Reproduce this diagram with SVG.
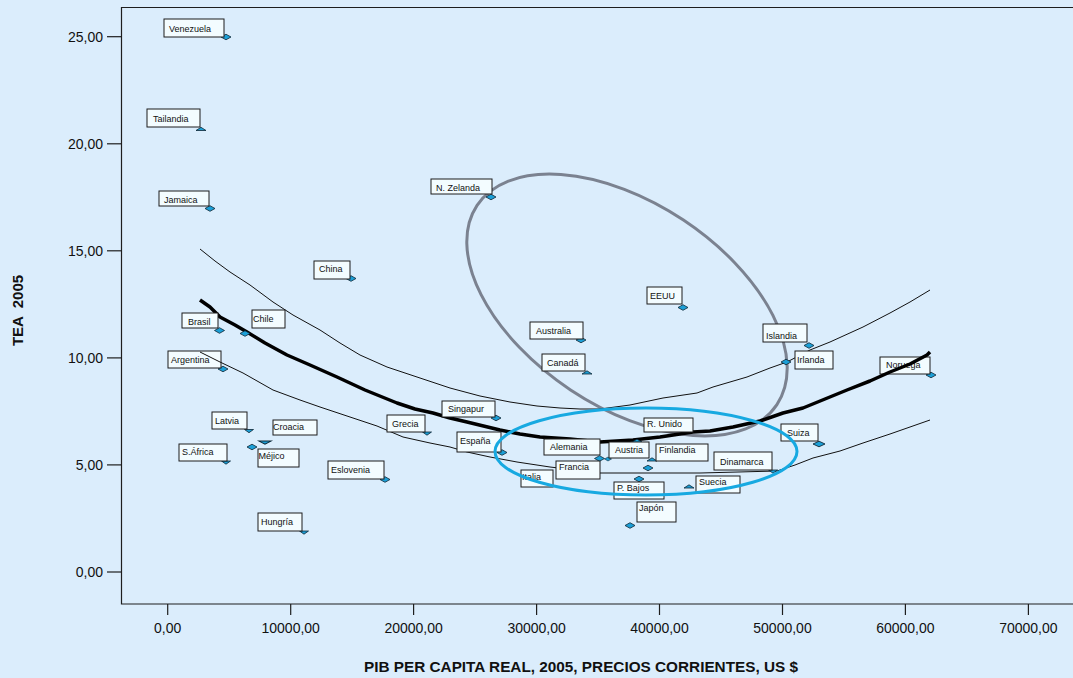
<svg xmlns="http://www.w3.org/2000/svg" width="1073" height="678" viewBox="0 0 1073 678">
<style>
.bg{fill:#dbedfc}
.ax{stroke:#1e1e1e;stroke-width:1.2;fill:none}
.tkl{font-family:"Liberation Sans",Arial,sans-serif;font-size:14px;fill:#111}
.ttl{font-family:"Liberation Sans",Arial,sans-serif;font-weight:bold;font-size:15px;fill:#111}
.box{fill:#f3fcff;stroke:#1c1c1c;stroke-width:1}
.lt{font-family:"Liberation Sans",Arial,sans-serif;font-size:9px;fill:#111}
.mk{fill:#1b9fd7;stroke:#0d2635;stroke-width:0.8}
.thin{stroke:#111;stroke-width:1;fill:none;stroke-linejoin:round}
.thick{stroke:#000;stroke-width:3.5;fill:none;stroke-linejoin:round}
.eg{stroke:#7b8290;stroke-width:3;fill:none}
.eb{stroke:#17a9e1;stroke-width:3;fill:none}
</style>
<defs>
<path id="dm" d="M-5,0 L0,-2.8 L5,0 L0,2.8 Z"/>
<path id="tu" d="M-5,0 L0,-3.2 L5,0 Z"/>
<path id="td" d="M-4.5,0 L4.5,0 L0,3.2 Z"/>
</defs>
<rect class="bg" x="0" y="0" width="1073" height="678"/>

<g id="annotation-gray">
<ellipse class="eg" cx="627" cy="305" rx="180" ry="102" transform="rotate(33.6 627 305)"/>
</g>

<g id="node-argentina">
<use href="#dm" class="mk" x="223" y="369"/>
<rect class="box" x="168" y="351" width="53" height="17"/>
<text class="lt" x="171" y="362.5">Argentina</text>
</g>
<g id="node-noruega">
<use href="#dm" class="mk" x="931" y="375"/>
<rect class="box" x="880" y="357" width="50" height="17"/>
<text class="lt" x="886" y="368">Noruega</text>
</g>

<g id="connectors">
<polyline class="thin" points="200,249 215,261 230,272 250,285 273,302 293,315 320,330 340,343 360,355 387,367 420,378 450,388 480,396 510,402 537,406 560,408 580,409 600,409 630,405 663,398 697,393 713,387 747,377 770,368 787,362 810,350 830,342 863,327 890,313 910,302 930,290"/>
<polyline class="thick" points="200,300 210,307 220,317 235,325 247,332 265,343 287,355 310,365 337,377 365,390 397,403 415,409 433,413 450,418 467,422 500,430 520,434 540,437 570,439 600,442 633,440 660,437 693,432 710,431 733,427 760,421 783,413 803,408 825,399 847,390 870,381 890,372 910,364 927,355 930,352"/>
<polyline class="thin" points="200,352 220,362 243,373 273,390 300,400 320,407 350,417 377,426 403,437 430,443 450,447 467,452 490,457 517,462 550,467 600,473 640,473 700,473 777,471 795,465 813,458 840,451 863,443 890,434 910,427 930,420"/>
</g>

<g id="node-venezuela">
<use href="#dm" class="mk" x="226" y="37"/>
<rect class="box" x="164" y="19" width="60" height="18"/>
<text class="lt" x="169" y="31.5">Venezuela</text>
</g>
<g id="node-tailandia">
<use href="#tu" class="mk" x="201" y="130.5"/>
<rect class="box" x="147" y="109" width="53" height="18"/>
<text class="lt" x="153" y="121.5">Tailandia</text>
</g>
<g id="node-jamaica">
<use href="#dm" class="mk" x="210" y="208.5"/>
<rect class="box" x="159" y="191" width="50" height="15"/>
<text class="lt" x="164" y="203">Jamaica</text>
</g>
<g id="node-nzelanda">
<use href="#dm" class="mk" x="491" y="197"/>
<rect class="box" x="431" y="179" width="61" height="15"/>
<text class="lt" x="436" y="191">N. Zelanda</text>
</g>
<g id="node-china">
<use href="#dm" class="mk" x="351" y="278.5"/>
<rect class="box" x="314" y="261" width="36" height="18"/>
<text class="lt" x="319" y="272">China</text>
</g>
<g id="node-brasil">
<use href="#dm" class="mk" x="219.5" y="330.5"/>
<rect class="box" x="182" y="313" width="36" height="15"/>
<text class="lt" x="188" y="324.5">Brasil</text>
</g>
<g id="node-chile">
<use href="#dm" class="mk" x="245" y="333.5"/>
<rect class="box" x="252" y="310" width="33" height="18"/>
<text class="lt" x="253" y="322">Chile</text>
</g>
<g id="node-latvia">
<use href="#td" class="mk" x="249" y="429.5"/>
<rect class="box" x="212" y="412" width="35" height="17"/>
<text class="lt" x="215" y="424">Latvia</text>
</g>
<g id="node-croacia">
<use href="#td" class="mk" x="265" y="441" transform="translate(265 441) scale(1.4 1) translate(-265 -441)"/>
<rect class="box" x="273" y="420" width="44" height="15"/>
<text class="lt" x="273" y="430">Croacia</text>
</g>
<g id="node-safrica">
<use href="#td" class="mk" x="226" y="461"/>
<rect class="box" x="179" y="444" width="48" height="17"/>
<text class="lt" x="182" y="455">S.África</text>
</g>
<g id="node-mejico">
<use href="#dm" class="mk" x="252" y="447"/>
<rect class="box" x="258" y="449" width="41" height="18"/>
<text class="lt" x="258.5" y="458.5">Méjico</text>
</g>
<g id="node-eslovenia">
<use href="#dm" class="mk" x="385" y="479.5"/>
<rect class="box" x="328" y="461" width="56" height="18"/>
<text class="lt" x="331" y="473">Eslovenia</text>
</g>
<g id="node-hungria">
<use href="#td" class="mk" x="304" y="531"/>
<rect class="box" x="258" y="513" width="44" height="18"/>
<text class="lt" x="261" y="525">Hungría</text>
</g>
<g id="node-grecia">
<use href="#td" class="mk" x="427" y="432"/>
<rect class="box" x="387" y="415" width="38" height="17"/>
<text class="lt" x="392" y="427">Grecia</text>
</g>
<g id="node-singapur">
<use href="#dm" class="mk" x="496" y="418"/>
<rect class="box" x="442" y="401" width="53" height="16"/>
<text class="lt" x="448" y="412">Singapur</text>
</g>
<g id="node-espana">
<use href="#dm" class="mk" x="502" y="452.5"/>
<rect class="box" x="457" y="432" width="44" height="20"/>
<text class="lt" x="460" y="444">España</text>
</g>
<g id="node-runido">
<use href="#dm" class="mk" x="637" y="442"/>
<rect class="box" x="644" y="418" width="49" height="14"/>
<text class="lt" x="647" y="426.5">R. Unido</text>
</g>
<g id="node-alemania">
<use href="#dm" class="mk" x="599.5" y="458.5"/>
<rect class="box" x="544" y="439" width="56" height="16"/>
<text class="lt" x="550" y="450">Alemania</text>
</g>
<g id="node-austria">
<use href="#dm" class="mk" x="608" y="459" transform="translate(608 459) scale(0.7) translate(-608 -459)"/>
<rect class="box" x="609" y="442" width="40" height="16"/>
<text class="lt" x="615" y="453">Austria</text>
</g>
<g id="node-finlandia">
<use href="#tu" class="mk" x="652" y="461"/>
<use href="#dm" class="mk" x="648" y="468"/>
<rect class="box" x="656" y="444" width="52" height="17"/>
<text class="lt" x="659" y="453">Finlandia</text>
</g>
<g id="node-francia">
<rect class="box" x="556" y="461" width="44" height="18"/>
<text class="lt" x="559" y="470">Francia</text>
</g>
<g id="node-italia">
<rect class="box" x="521" y="470" width="32" height="17"/>
<text class="lt" x="522" y="479.5">Italia</text>
</g>
<g id="node-pbajos">
<use href="#dm" class="mk" x="639" y="479"/>
<rect class="box" x="614" y="482" width="50" height="17"/>
<text class="lt" x="617" y="490.5">P. Bajos</text>
</g>
<g id="node-suecia">
<use href="#tu" class="mk" x="689" y="488"/>
<rect class="box" x="696" y="476" width="44" height="17"/>
<text class="lt" x="699" y="484.5">Suecia</text>
</g>
<g id="node-japon">
<use href="#dm" class="mk" x="630" y="525.5"/>
<rect class="box" x="637" y="502" width="39" height="20"/>
<text class="lt" x="639" y="511">Japón</text>
</g>
<g id="node-dinamarca">
<use href="#td" class="mk" x="773" y="470"/>
<rect class="box" x="714" y="452" width="58" height="18"/>
<text class="lt" x="720" y="464.5">Dinamarca</text>
</g>
<g id="node-suiza">
<use href="#dm" class="mk" x="819" y="444" transform="translate(819 444) scale(1.2 1) translate(-819 -444)"/>
<rect class="box" x="781" y="424" width="37" height="17"/>
<text class="lt" x="787" y="435.5">Suiza</text>
</g>
<g id="node-eeuu">
<use href="#dm" class="mk" x="683" y="307.5"/>
<rect class="box" x="647" y="287" width="35" height="17"/>
<text class="lt" x="650" y="298.5">EEUU</text>
</g>
<g id="node-islandia">
<use href="#dm" class="mk" x="809" y="345.5"/>
<rect class="box" x="763" y="324" width="44" height="18"/>
<text class="lt" x="766" y="339">Islandia</text>
</g>
<g id="node-irlanda">
<use href="#dm" class="mk" x="786" y="362"/>
<rect class="box" x="795" y="351" width="38" height="18"/>
<text class="lt" x="797" y="363">Irlanda</text>
</g>
<g id="node-australia">
<use href="#dm" class="mk" x="581" y="340"/>
<rect class="box" x="530" y="322" width="53" height="17"/>
<text class="lt" x="536" y="333.5">Australia</text>
</g>
<g id="node-canada">
<use href="#tu" class="mk" x="587" y="374"/>
<rect class="box" x="542" y="354" width="43" height="17"/>
<text class="lt" x="547" y="365.5">Canadá</text>
</g>

<g id="annotation-blue">
<ellipse class="eb" cx="646" cy="451.5" rx="151" ry="43.5"/>
</g>

<g id="axes">
<polyline class="ax" points="1080,7.5 121.5,7.5 121.5,604 1080,604"/>
<g class="ax">
<line x1="107" y1="36.7" x2="121.5" y2="36.7"/>
<line x1="107" y1="143.8" x2="121.5" y2="143.8"/>
<line x1="107" y1="250.8" x2="121.5" y2="250.8"/>
<line x1="107" y1="357.9" x2="121.5" y2="357.9"/>
<line x1="107" y1="464.9" x2="121.5" y2="464.9"/>
<line x1="107" y1="572" x2="121.5" y2="572"/>
<line x1="167.7" y1="604" x2="167.7" y2="615"/>
<line x1="290.7" y1="604" x2="290.7" y2="615"/>
<line x1="413.6" y1="604" x2="413.6" y2="615"/>
<line x1="536.6" y1="604" x2="536.6" y2="615"/>
<line x1="659.5" y1="604" x2="659.5" y2="615"/>
<line x1="782.5" y1="604" x2="782.5" y2="615"/>
<line x1="905.4" y1="604" x2="905.4" y2="615"/>
<line x1="1028.4" y1="604" x2="1028.4" y2="615"/>
</g>
<g class="tkl" text-anchor="end">
<text x="103" y="41.7">25,00</text>
<text x="103" y="148.8">20,00</text>
<text x="103" y="255.8">15,00</text>
<text x="103" y="362.9">10,00</text>
<text x="103" y="469.9">5,00</text>
<text x="103" y="577">0,00</text>
</g>
<g class="tkl" text-anchor="middle">
<text x="167.7" y="633.3">0,00</text>
<text x="290.7" y="633.3">10000,00</text>
<text x="413.6" y="633.3">20000,00</text>
<text x="536.6" y="633.3">30000,00</text>
<text x="659.5" y="633.3">40000,00</text>
<text x="782.5" y="633.3">50000,00</text>
<text x="905.4" y="633.3">60000,00</text>
<text x="1028.4" y="633.3">70000,00</text>
</g>
<text class="ttl" x="364" y="671.5" textLength="434" lengthAdjust="spacingAndGlyphs">PIB PER CAPITA REAL, 2005, PRECIOS CORRIENTES, US $</text>
<text class="ttl" x="0" y="0" text-anchor="middle" style="white-space:pre" transform="translate(23 310.5) rotate(-90)">TEA  2005</text>
</g>
</svg>
